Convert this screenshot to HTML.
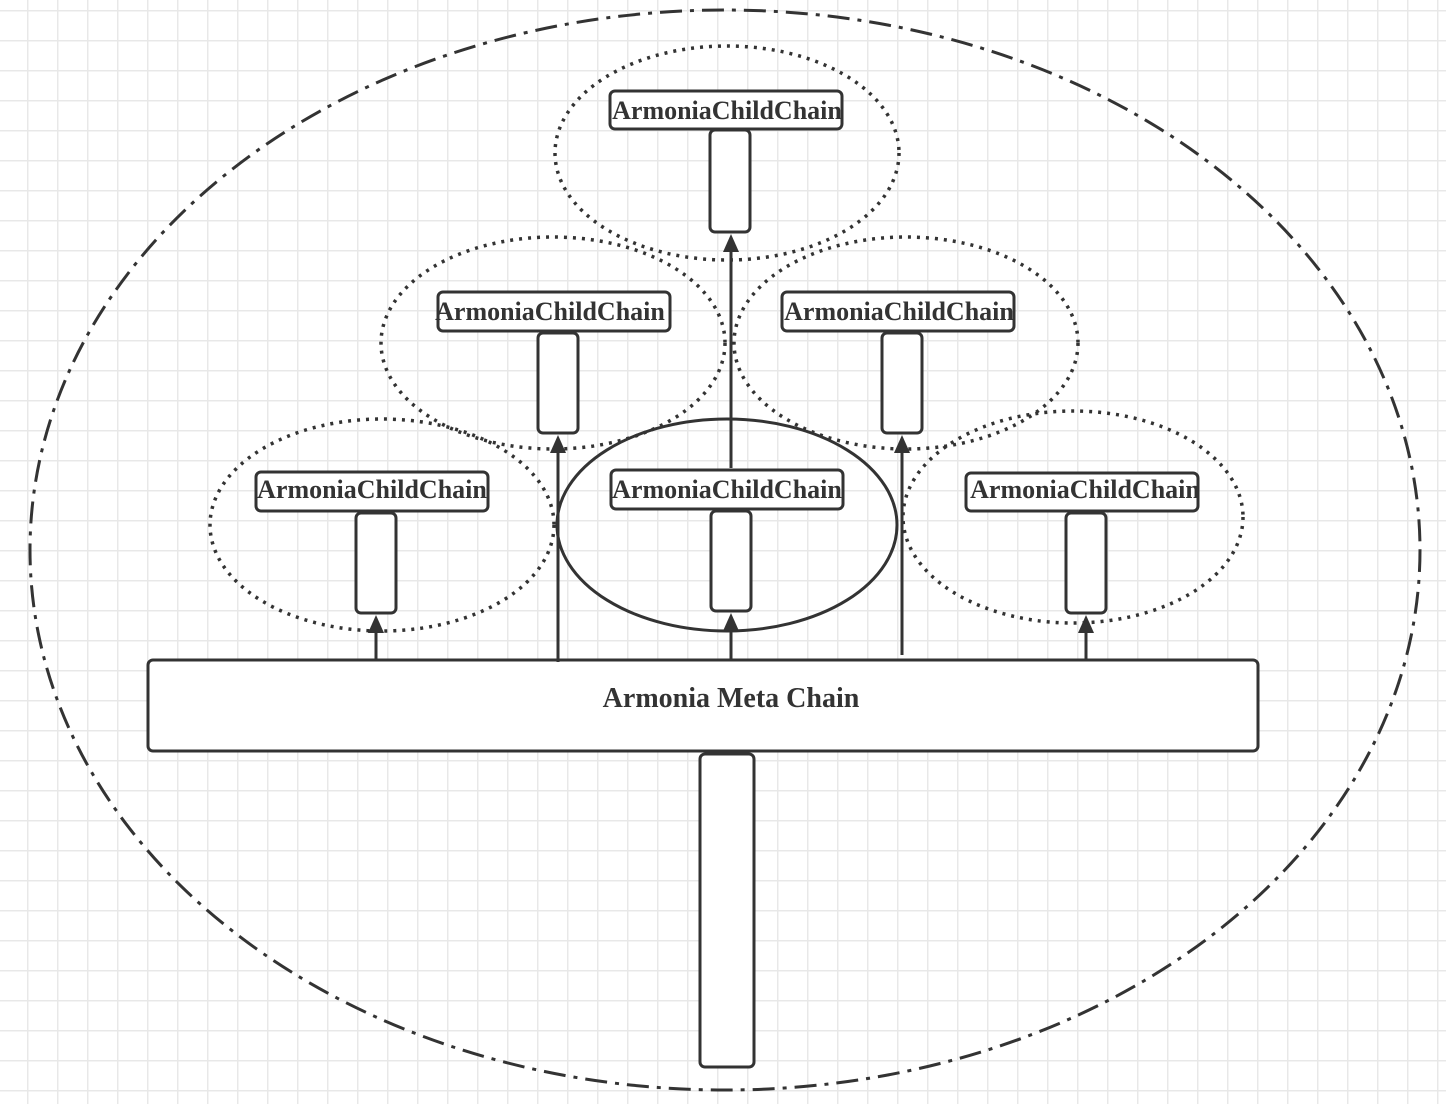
<!DOCTYPE html>
<html><head><style>html,body{margin:0;padding:0;background:#fff}</style></head><body>
<svg width="1446" height="1104" viewBox="0 0 1446 1104" xmlns="http://www.w3.org/2000/svg">
<defs>
<pattern id="g" x="-3" y="10" width="30" height="30" patternUnits="userSpaceOnUse">
<path d="M0 0H30M0 0V30" stroke="#e8e8e8" stroke-width="3" fill="none"/>
</pattern>
</defs>
<rect width="1446" height="1104" fill="url(#g)"/>
<g fill="none" stroke="#333" stroke-width="3">
<ellipse cx="725" cy="550" rx="695" ry="540" stroke-dasharray="22 8 4 8"/>
<g stroke-dasharray="3 6" stroke-width="3.5">
<ellipse cx="727" cy="153" rx="172" ry="107"/>
<ellipse cx="553" cy="343" rx="172" ry="106"/>
<ellipse cx="906" cy="343" rx="172" ry="106"/>
<ellipse cx="382" cy="525" rx="172" ry="106"/>
<ellipse cx="1073" cy="517" rx="170" ry="106"/>
</g>
<ellipse cx="727" cy="525" rx="170" ry="106"/>
<g fill="#fff">
<rect x="610" y="91" width="232" height="38" rx="5"/>
<rect x="438" y="292" width="232" height="39" rx="5"/>
<rect x="782" y="292" width="232" height="39" rx="5"/>
<rect x="256" y="472" width="232" height="39" rx="5"/>
<rect x="611" y="470" width="232" height="39" rx="5"/>
<rect x="966" y="473" width="232" height="38" rx="5"/>
<rect x="710" y="130" width="40" height="102" rx="5"/>
<rect x="538" y="333" width="40" height="100" rx="5"/>
<rect x="882" y="333" width="40" height="100" rx="5"/>
<rect x="356" y="513" width="40" height="100" rx="5"/>
<rect x="711" y="511" width="40" height="100" rx="5"/>
<rect x="1066" y="513" width="40" height="100" rx="5"/>
<rect x="148" y="660" width="1110" height="91" rx="5"/>
<rect x="700" y="754" width="54" height="313" rx="5"/>
</g>
<path d="M376 660V630M558 662V450M731 660V630M902 655V450M1086 660V630M731 468V250"/>
</g>
<g fill="#333">
<path d="M376 615l-8 18h16z"/>
<path d="M558 435l-8 18h16z"/>
<path d="M731 613l-8 18h16z"/>
<path d="M902 435l-8 18h16z"/>
<path d="M1086 615l-8 18h16z"/>
<path d="M731 234l-8 18h16z"/>
</g>
<g font-family="Liberation Serif, serif" font-weight="bold" font-size="26" fill="#333" text-anchor="middle">
<text x="727" y="119">ArmoniaChildChain</text>
<text x="550" y="320">ArmoniaChildChain</text>
<text x="899" y="320">ArmoniaChildChain</text>
<text x="372" y="498">ArmoniaChildChain</text>
<text x="727" y="498">ArmoniaChildChain</text>
<text x="1085" y="498">ArmoniaChildChain</text>
<text x="731" y="707" font-size="28">Armonia Meta Chain</text>
</g>
</svg>
</body></html>
